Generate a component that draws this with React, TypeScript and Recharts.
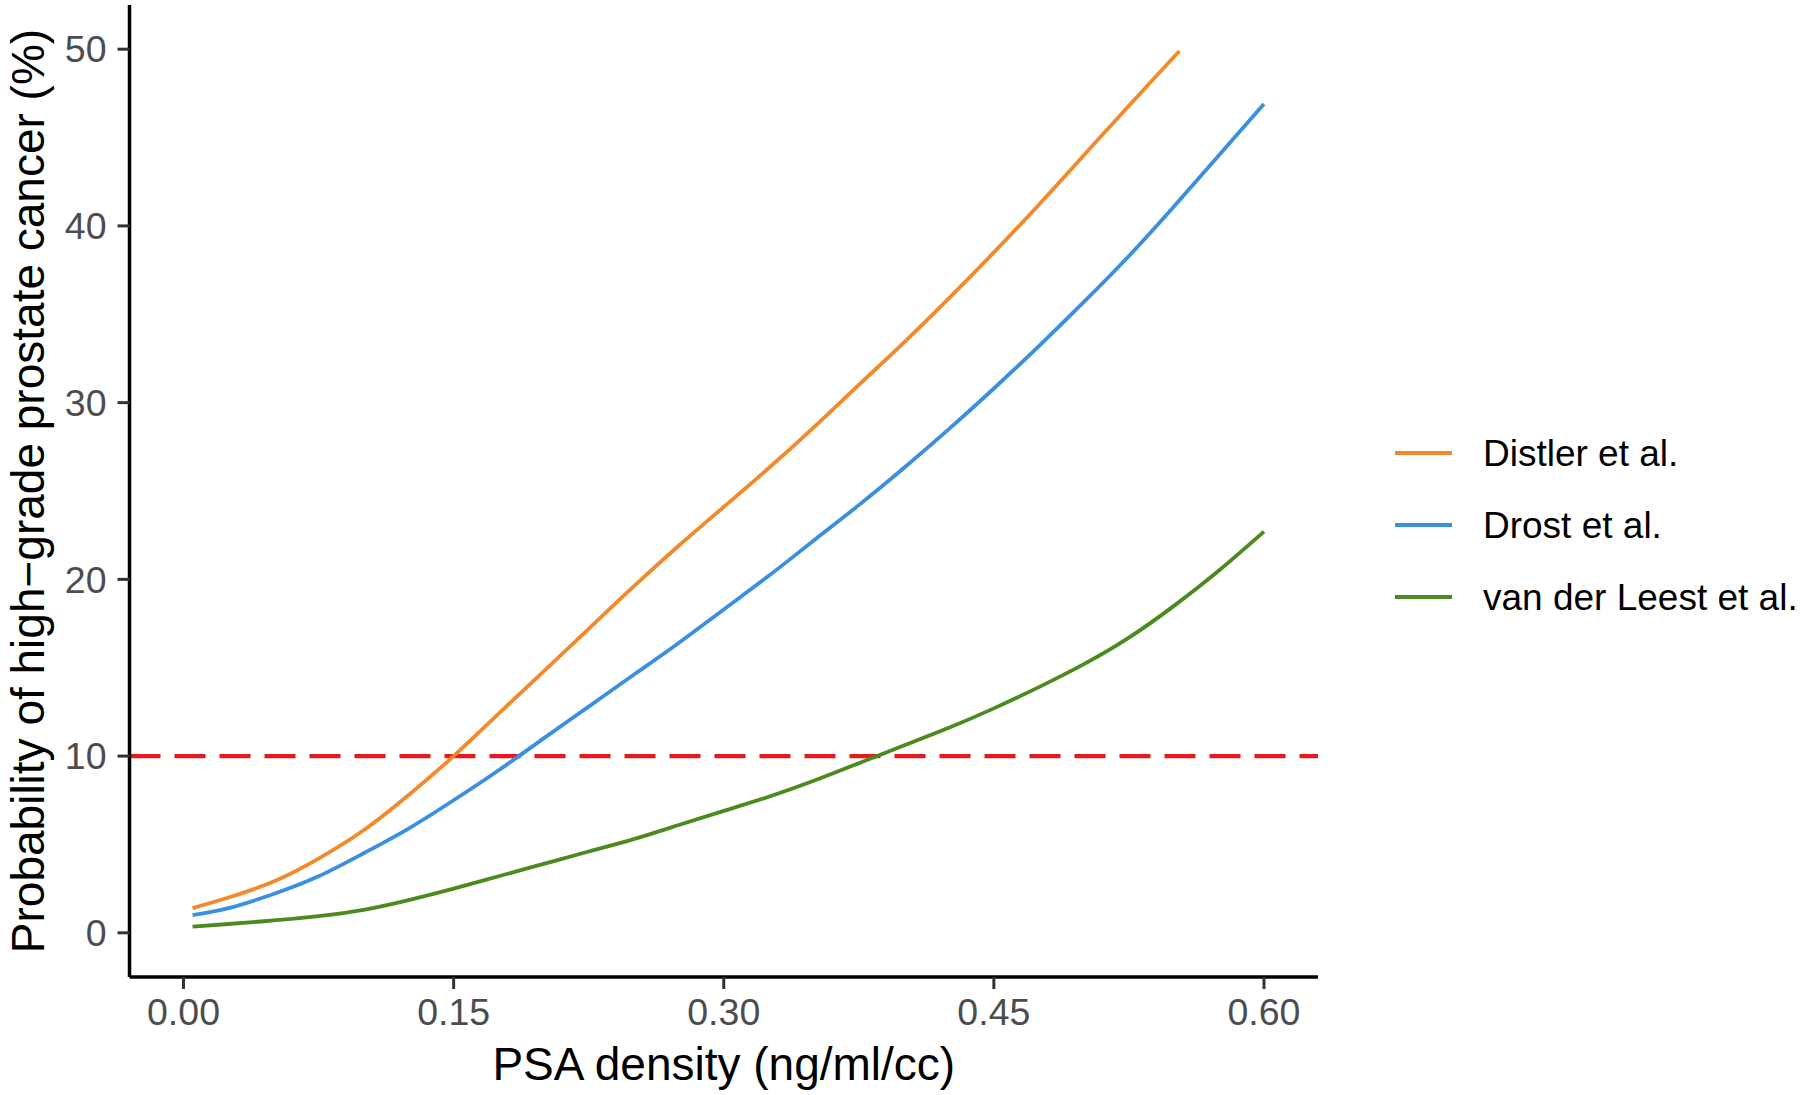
import { LineChart, Line, XAxis, YAxis, ReferenceLine } from "recharts";

// PSA density (ng/ml/cc)
const psaGrid = [
    0.005, 0.025, 0.05, 0.075, 0.1, 0.125, 0.15, 0.175, 0.2, 0.225, 0.25, 0.275,
    0.3, 0.325, 0.35, 0.375, 0.4, 0.425, 0.45, 0.475, 0.5, 0.525, 0.55, 0.575, 0.6,
];
const distlerPsa = [
    0.005, 0.025, 0.05, 0.075, 0.1, 0.125, 0.15, 0.175, 0.2, 0.225, 0.25, 0.275,
    0.3, 0.325, 0.35, 0.375, 0.4, 0.425, 0.45, 0.475, 0.5, 0.525, 0.553,
];

// probability of high-grade prostate cancer (%)
const distler = [
    1.4, 2.0, 2.9, 4.2, 5.8, 7.8, 10.0, 12.4, 14.8, 17.2, 19.6, 21.9,
    24.1, 26.3, 28.6, 31.0, 33.4, 35.9, 38.5, 41.2, 44.0, 46.8, 49.9,
];
const drost = [
    1.0, 1.4, 2.2, 3.2, 4.5, 5.9, 7.5, 9.2, 11.0, 12.8, 14.6, 16.4,
    18.3, 20.2, 22.2, 24.2, 26.3, 28.5, 30.8, 33.2, 35.7, 38.3, 41.1, 44.0, 46.9,
];
const vanDerLeest = [
    0.35, 0.5, 0.7, 0.95, 1.3, 1.85, 2.5, 3.2, 3.9, 4.6, 5.3, 6.1,
    6.9, 7.7, 8.6, 9.6, 10.6, 11.6, 12.7, 13.9, 15.2, 16.7, 18.5, 20.5, 22.7,
];

const xTicks = [0, 0.15, 0.3, 0.45, 0.6];
const yTicks = [0, 10, 20, 30, 40, 50];
const threshold = 10;

const series = [
    { name: "Distler et al.", color: "#F28A2C", data: distlerPsa.map((x, i) => ({ psa: x, p: distler[i] })) },
    { name: "Drost et al.", color: "#3B8FE0", data: psaGrid.map((x, i) => ({ psa: x, p: drost[i] })) },
    { name: "van der Leest et al.", color: "#4B8A1E", data: psaGrid.map((x, i) => ({ psa: x, p: vanDerLeest[i] })) },
];

const FONT = '"Liberation Sans", Arial, Helvetica, sans-serif';
const W = 1800;
const H = 1095;
const LINE_W = 3.8;

export default function App() {
    return (
        <div style={{ position: "absolute", left: 0, top: 0, width: W, height: H, background: "#fff", fontFamily: FONT }}>
            <LineChart width={W} height={H} margin={{ top: 5, right: 482, bottom: 58, left: 9.5 }}>
                <XAxis
                    type="number"
                    dataKey="psa"
                    domain={[-0.03, 0.63]}
                    allowDataOverflow
                    ticks={xTicks}
                    tickFormatter={v => v.toFixed(2)}
                    height={60}
                    axisLine={{ stroke: "#000", strokeWidth: 3.5 }}
                    tickLine={{ stroke: "#333", strokeWidth: 3 }}
                    tickSize={12}
                    tickMargin={9}
                    tick={{ fontSize: 37.5, fill: "#4d4d4d", fontFamily: FONT }}
                    label={{
                        content: () => (
                            <text x={723.8} y={1080} textAnchor="middle" fontSize={46} fill="#000" fontFamily={FONT}>
                                PSA density (ng/ml/cc)
                            </text>
                        ),
                    }}
                />
                <YAxis
                    type="number"
                    dataKey="p"
                    domain={[-2.5, 52.5]}
                    allowDataOverflow
                    ticks={yTicks}
                    width={120}
                    axisLine={{ stroke: "#000", strokeWidth: 3.5 }}
                    tickLine={{ stroke: "#333", strokeWidth: 3 }}
                    tickSize={12}
                    tickMargin={11}
                    tick={{ fontSize: 37.5, fill: "#4d4d4d", fontFamily: FONT }}
                    label={{
                        content: () => (
                            <text x={44} y={491} transform="rotate(-90, 44, 491)" textAnchor="middle" fontSize={46} fill="#000" fontFamily={FONT}>
                                Probability of high−grade prostate cancer (%)
                            </text>
                        ),
                    }}
                />
                <ReferenceLine y={threshold} stroke="#E41A1C" strokeWidth={4.2} strokeDasharray="31 14" />
                {series.map(s => (
                    <Line
                        key={s.name}
                        data={s.data}
                        dataKey="p"
                        name={s.name}
                        type="natural"
                        stroke={s.color}
                        strokeWidth={LINE_W}
                        dot={false}
                        activeDot={false}
                        isAnimationActive={false}
                    />
                ))}
            </LineChart>

            {/* legend, ggplot-style: right side, no title */}
            <div style={{ position: "absolute", left: 1395, top: 417 }}>
                {series.map(s => (
                    <div key={s.name} style={{ display: "flex", alignItems: "center", height: 72 }}>
                        <svg width={57} height={8} style={{ display: "block" }}>
                            <line x1={0} x2={57} y1={4} y2={4} stroke={s.color} strokeWidth={LINE_W} />
                        </svg>
                        <span style={{ marginLeft: 31, fontSize: 37, color: "#000", whiteSpace: "nowrap", lineHeight: 1 }}>{s.name}</span>
                    </div>
                ))}
            </div>
        </div>
    );
}
